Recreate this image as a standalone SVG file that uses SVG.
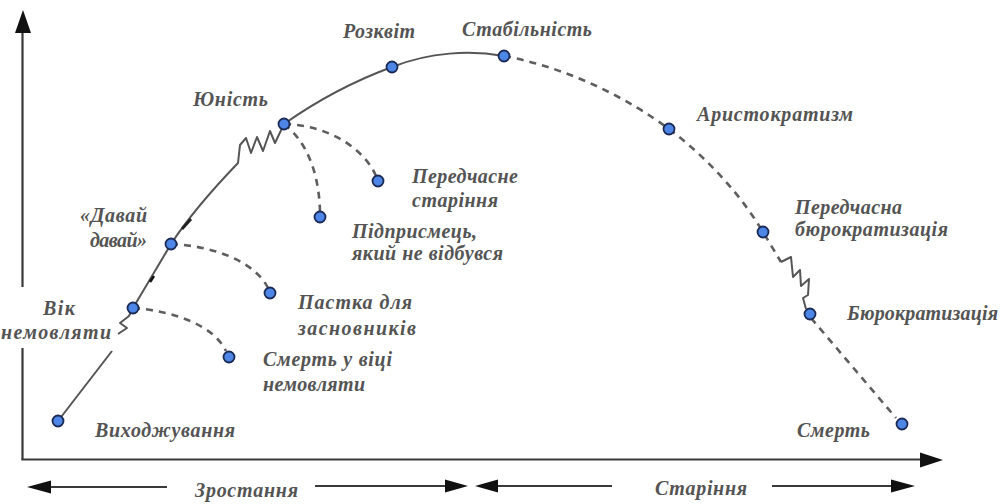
<svg xmlns="http://www.w3.org/2000/svg" width="1006" height="504" viewBox="0 0 1006 504">
  <style>
    .lbl { font-family: "Liberation Serif", "DejaVu Serif", serif; font-style: italic; font-weight: bold; font-size: 20px; fill: #545454; }
    .axis { stroke: #3a3a3a; stroke-width: 2.2; fill: none; }
    .solid { stroke: #555; stroke-width: 2; fill: none; stroke-linejoin: round; }
    .dash { stroke: #5e5e5e; stroke-width: 2.6; fill: none; stroke-dasharray: 7 6; }
    .head { fill: #111; }
    .dot { fill: #4d86e6; stroke: #1b2a55; stroke-width: 1.8; }
  </style>

  <rect width="1006" height="504" fill="#ffffff"/>

  <!-- axes -->
  <g id="axes">
    <line class="axis" x1="22.5" y1="32" x2="22.5" y2="287"/>
    <line class="axis" x1="22.5" y1="348" x2="22.5" y2="460"/>
    <polygon class="head" points="23,10 15,33 31,33"/>
    <line class="axis" x1="21.5" y1="459.5" x2="922" y2="459.5" stroke-width="2.8"/>
    <polygon class="head" points="943,460 920,452.5 920,467.5"/>
  </g>

  <!-- period arrows under the time axis -->
  <g id="periods">
    <line class="axis" x1="50" y1="487" x2="167" y2="487" stroke-width="2"/>
    <polygon class="head" points="27,487 51,480.5 51,493.5"/>
    <line class="axis" x1="315" y1="486" x2="447" y2="486" stroke-width="2"/>
    <polygon class="head" points="468,486 445,479.5 445,492.5"/>
    <line class="axis" x1="496" y1="486" x2="612" y2="486" stroke-width="2"/>
    <polygon class="head" points="475,486 498,479.5 498,492.5"/>
    <line class="axis" x1="772" y1="486" x2="893" y2="486" stroke-width="2"/>
    <polygon class="head" points="915,486 891,479.5 891,492.5"/>
    <text class="lbl" x="195" y="497" textLength="103">Зростання</text>
    <text class="lbl" x="655" y="495" textLength="92">Старіння</text>
  </g>

  <!-- lifecycle curve and branches -->
  <g id="connectors">
    <!-- growth: solid -->
    <path class="solid" d="M58,421 L112,351"/>
    <path class="solid" d="M118,334 L127,328 L120,323 L129,316 L133,308"/>
    <path class="solid" d="M133,308 L171,244"/>
    <path class="solid" d="M171,244 C190,215 212,190 238,163 L240,145 L246,138 L251,153 L257,137 L263,151 L270,131 L275,143 L284,124"/>
    <path class="solid" d="M284,124 Q335,88 392,67 C430,52 470,50 504,56"/>
    <!-- small marks on the growth line -->
    <path d="M150,282 L154,276" stroke="#111" stroke-width="2.6"/>
    <path d="M182,229 L191,219" stroke="#222" stroke-width="2.8"/>

    <!-- ageing: dashed -->
    <path class="dash" d="M504,56 C570,68 630,100 669,129 C710,160 742,197 763,232 L781,262"/>
    <path class="solid" d="M781,262 L791,257 L793,277 L800,270 L801,286 L809,279 L808,295 L803,298 L806,309"/>
    <path class="dash" d="M811,318 L896,418"/>

    <!-- failure branches -->
    <path class="dash" d="M133,308 C175,311 214,326 226,351"/>
    <path class="dash" d="M171,244 C215,246 255,262 268,288"/>
    <path class="dash" d="M284,124 C305,140 319,170 320,212"/>
    <path class="dash" d="M284,124 C330,125 365,150 376,176"/>
  </g>

  <!-- stages -->
  <g id="n-vykhodzhuvannia">
    <circle class="dot" cx="58" cy="421" r="5.5"/>
    <text class="lbl" x="95" y="437" textLength="140">Виходжування</text>
  </g>
  <g id="n-vik-nemovliaty">
    <circle class="dot" cx="133" cy="308" r="5.5"/>
    <text class="lbl" x="43" y="315" textLength="32">Вік</text>
    <text class="lbl" x="1" y="339" textLength="110">немовляти</text>
  </g>
  <g id="n-davai-davai">
    <circle class="dot" cx="171" cy="244" r="5.5"/>
    <text class="lbl" x="80" y="222" textLength="67">«Давай</text>
    <text class="lbl" x="90" y="247" textLength="57">давай»</text>
  </g>
  <g id="n-yunist">
    <circle class="dot" cx="284" cy="124" r="5.5"/>
    <text class="lbl" x="193" y="106" textLength="75">Юність</text>
  </g>
  <g id="n-rozkvit">
    <circle class="dot" cx="392" cy="67" r="5.5"/>
    <text class="lbl" x="343" y="38" textLength="72">Розквіт</text>
  </g>
  <g id="n-stabilnist">
    <circle class="dot" cx="504" cy="56" r="5.5"/>
    <text class="lbl" x="462" y="36" textLength="130">Стабільність</text>
  </g>
  <g id="n-arystokratyzm">
    <circle class="dot" cx="669" cy="129" r="5.5"/>
    <text class="lbl" x="697" y="121" textLength="156">Аристократизм</text>
  </g>
  <g id="n-peredchasna-biurokratyzatsiia">
    <circle class="dot" cx="763" cy="232" r="5.5"/>
    <text class="lbl" x="795" y="214" textLength="107">Передчасна</text>
    <text class="lbl" x="795" y="236" textLength="153">бюрократизація</text>
  </g>
  <g id="n-biurokratyzatsiia">
    <circle class="dot" cx="810" cy="314" r="5.5"/>
    <text class="lbl" x="847" y="320" textLength="151">Бюрократизація</text>
  </g>
  <g id="n-smert">
    <circle class="dot" cx="902" cy="424" r="5.5"/>
    <text class="lbl" x="797" y="437" textLength="73">Смерть</text>
  </g>

  <!-- traps -->
  <g id="n-smert-u-vitsi-nemovliaty">
    <circle class="dot" cx="229" cy="357" r="5.5"/>
    <text class="lbl" x="263" y="366" textLength="129">Смерть у віці</text>
    <text class="lbl" x="263" y="391" textLength="102">немовляти</text>
  </g>
  <g id="n-pastka-dlia-zasnovnykiv">
    <circle class="dot" cx="270" cy="293" r="5.5"/>
    <text class="lbl" x="298" y="309" textLength="114">Пастка для</text>
    <text class="lbl" x="298" y="335" textLength="118">засновників</text>
  </g>
  <g id="n-pidpryiemets">
    <circle class="dot" cx="320" cy="217" r="5.5"/>
    <text class="lbl" x="352" y="238" textLength="125">Підприсмець,</text>
    <text class="lbl" x="352" y="260" textLength="151">який не відбувся</text>
  </g>
  <g id="n-peredchasne-starinnia">
    <circle class="dot" cx="378" cy="181" r="5.5"/>
    <text class="lbl" x="412" y="183" textLength="106">Передчасне</text>
    <text class="lbl" x="412" y="207" textLength="86">старіння</text>
  </g>
</svg>
